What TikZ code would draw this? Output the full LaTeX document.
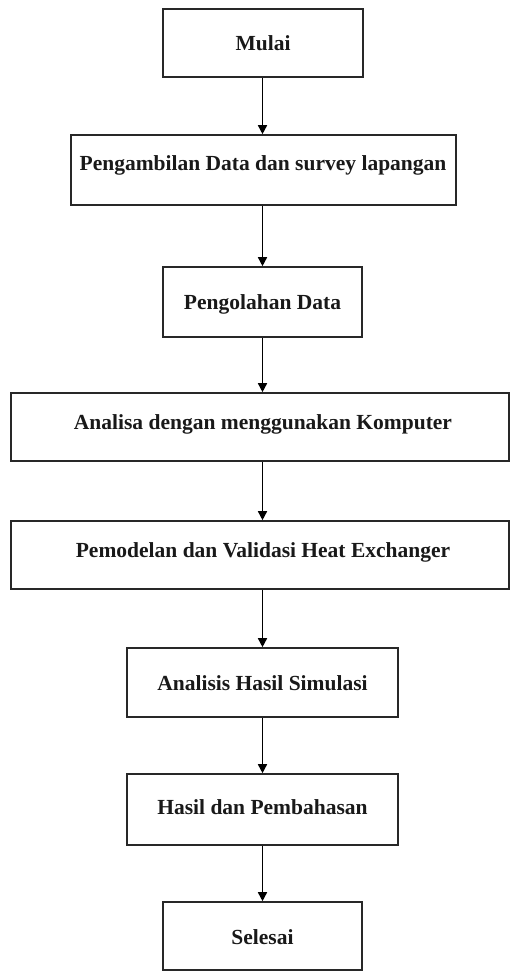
\documentclass[tikz,border=0pt]{standalone}
\usepackage{fontspec}
\setmainfont{Liberation Serif}
\usetikzlibrary{arrows.meta}
\definecolor{boxline}{RGB}{40,40,40}
\tikzset{
  stepbox/.style={draw=boxline, line width=1.6pt, rectangle, inner sep=0pt, fill=white},
  steptext/.style={anchor=base, inner sep=0pt, font=\fontsize{21.5}{24}\selectfont\bfseries, text=black!90},
  flow/.style={draw=black, line width=1.5pt, -{Triangle[length=9pt,width=9pt]}}
}
\newcommand{\mkbox}[5]{%
  \node[stepbox, minimum width={(#4-#2)*1pt}, minimum height={(#5-#3)*1pt}] (#1) at ({(#2+#4)/2},{(#3+#5)/2}) {};}
\begin{document}
\begin{tikzpicture}[x=1pt,y=-1pt]
\useasboundingbox (0,0) rectangle (510,972);
\mkbox{b1}{163}{9}{363}{77}
\mkbox{b2}{71}{135}{456}{205}
\mkbox{b3}{163}{267}{362}{337}
\mkbox{b4}{11}{393}{509}{461}
\mkbox{b5}{11}{521}{509}{589}
\mkbox{b6}{127}{648}{398}{717}
\mkbox{b7}{127}{774}{398}{845}
\mkbox{b8}{163}{902}{362}{970}
\node[steptext] (t1) at (263,50) {Mulai};
\node[steptext] (t2) at (263,170) {Pengambilan Data dan survey lapangan};
\node[steptext] (t3) at (262.5,309) {Pengolahan Data};
\node[steptext] (t4) at (263,429) {Analisa dengan menggunakan Komputer};
\node[steptext] (t5) at (263,557) {Pemodelan dan Validasi Heat Exchanger};
\node[steptext] (t6) at (262.5,690) {Analisis Hasil Simulasi};
\node[steptext] (t7) at (262.5,814) {Hasil dan Pembahasan};
\node[steptext] (t8) at (262.5,944) {Selesai};
\coordinate (ax) at (262.5,0);
\draw[flow] (b1.south -| ax) -- (b2.north -| ax);
\draw[flow] (b2.south -| ax) -- (b3.north -| ax);
\draw[flow] (b3.south -| ax) -- (b4.north -| ax);
\draw[flow] (b4.south -| ax) -- (b5.north -| ax);
\draw[flow] (b5.south -| ax) -- (b6.north -| ax);
\draw[flow] (b6.south -| ax) -- (b7.north -| ax);
\draw[flow] (b7.south -| ax) -- (b8.north -| ax);
\end{tikzpicture}
\end{document}
